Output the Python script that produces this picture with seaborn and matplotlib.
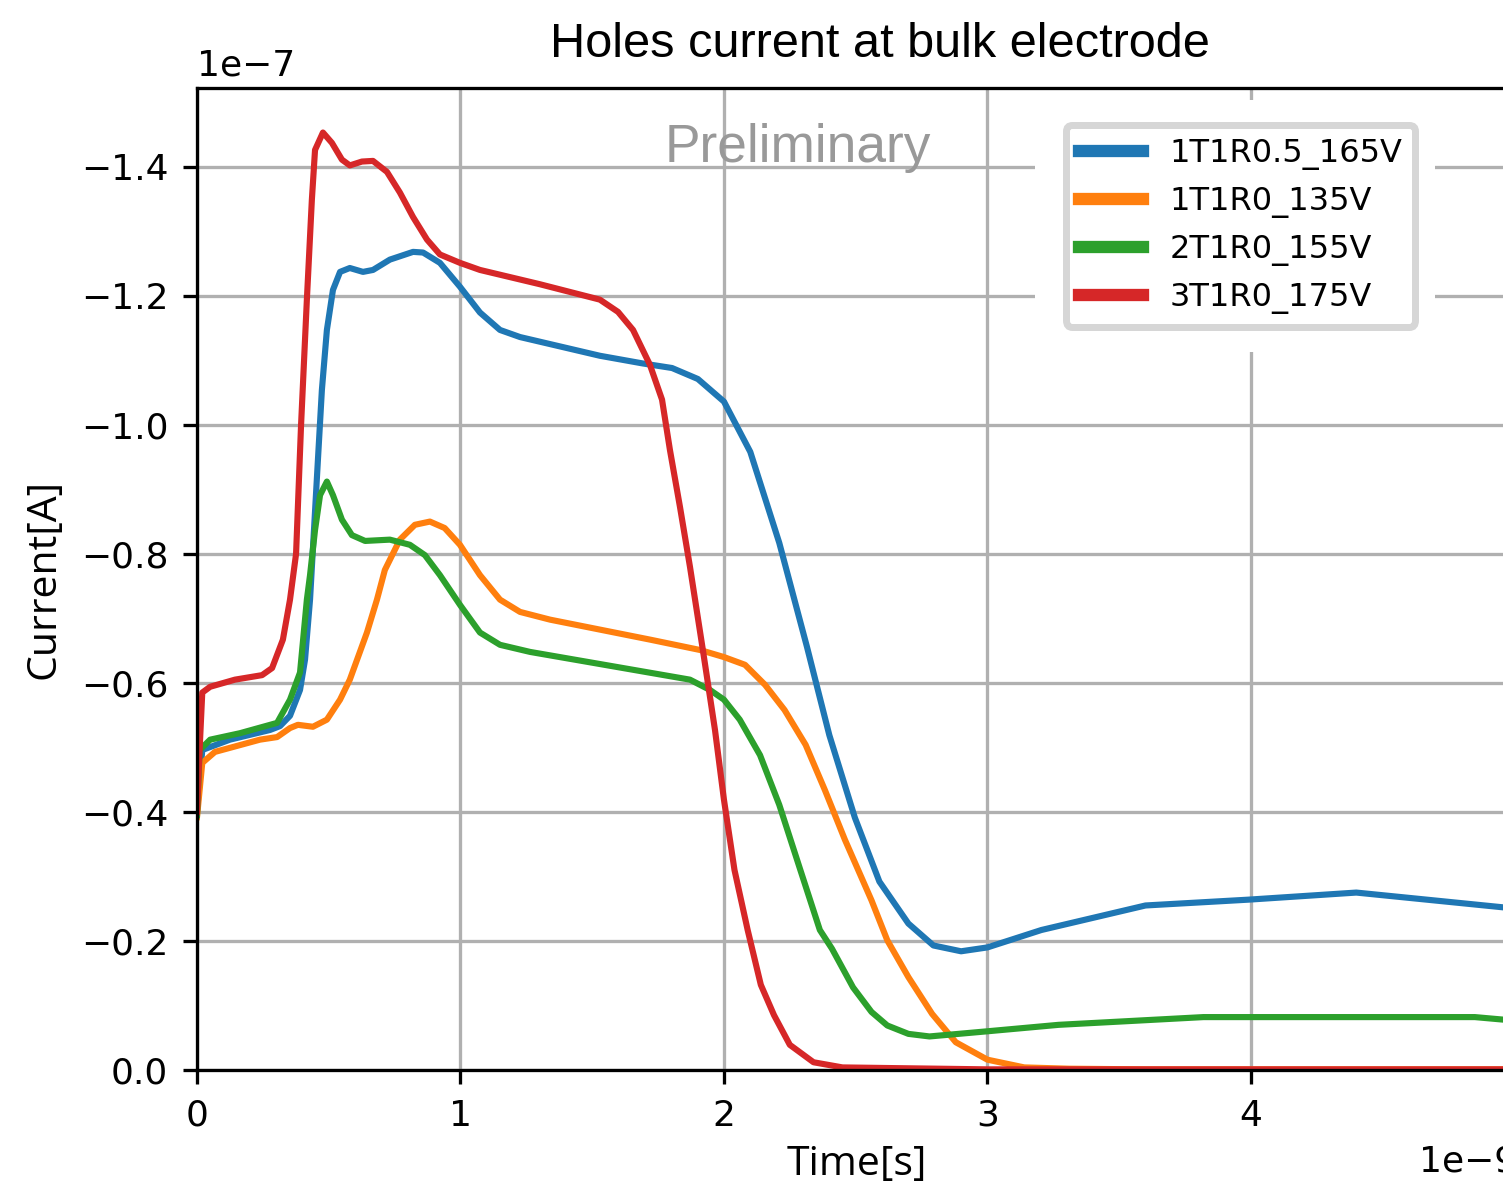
import numpy as np
import pandas as pd
import matplotlib
matplotlib.use("Agg")
import matplotlib.pyplot as plt
from matplotlib.patches import Rectangle
import seaborn as sns

# time in ns, current in 1e-7 A
t_blue = [0.0, 0.02, 0.125, 0.277, 0.315, 0.353, 0.391, 0.41, 0.429, 0.444, 0.459, 0.474,
          0.493, 0.516, 0.543, 0.58, 0.63, 0.668, 0.732, 0.82, 0.858, 0.922, 0.998, 1.074,
          1.15, 1.226, 1.529, 1.693, 1.803, 1.901, 2.0, 2.10, 2.21, 2.315, 2.40, 2.497,
          2.59, 2.70, 2.795, 2.90, 3.0, 3.205, 3.60, 3.99, 4.40, 4.96]
i_blue = [-0.40, -0.496, -0.512, -0.527, -0.533, -0.549, -0.589, -0.636, -0.729, -0.837,
          -0.946, -1.054, -1.147, -1.209, -1.237, -1.243, -1.237, -1.240, -1.256, -1.268,
          -1.267, -1.251, -1.214, -1.174, -1.147, -1.136, -1.107, -1.095, -1.088, -1.071,
          -1.036, -0.958, -0.817, -0.656, -0.519, -0.391, -0.292, -0.227, -0.193, -0.184,
          -0.190, -0.217, -0.255, -0.264, -0.275, -0.252]

t_orange = [0.0, 0.02, 0.068, 0.239, 0.304, 0.353, 0.383, 0.44, 0.493, 0.543, 0.58, 0.645,
            0.683, 0.713, 0.77, 0.827, 0.884, 0.94, 0.998, 1.074, 1.15, 1.226, 1.34, 1.72,
            1.909, 2.0, 2.08, 2.156, 2.23, 2.31, 2.383, 2.459, 2.56, 2.62, 2.70, 2.79, 2.88,
            3.0, 3.14, 3.31, 3.6, 4.0, 4.5, 4.96]
i_orange = [-0.392, -0.476, -0.493, -0.512, -0.516, -0.530, -0.535, -0.532, -0.543, -0.574,
            -0.605, -0.678, -0.729, -0.775, -0.822, -0.845, -0.850, -0.840, -0.814, -0.767,
            -0.729, -0.710, -0.698, -0.667, -0.651, -0.640, -0.628, -0.597, -0.558, -0.504,
            -0.434, -0.357, -0.263, -0.201, -0.144, -0.087, -0.043, -0.016, -0.004, -0.002,
            -0.001, -0.001, -0.001, -0.001]

t_green = [0.0, 0.01, 0.05, 0.163, 0.304, 0.353, 0.391, 0.417, 0.429, 0.448, 0.467, 0.493,
           0.516, 0.55, 0.588, 0.638, 0.732, 0.808, 0.865, 0.922, 0.998, 1.074, 1.15, 1.264,
           1.871, 1.947, 2.0, 2.06, 2.137, 2.21, 2.29, 2.364, 2.41, 2.49, 2.56, 2.62, 2.70,
           2.78, 3.0, 3.27, 3.82, 4.85, 4.96]
i_green = [-0.395, -0.496, -0.512, -0.522, -0.538, -0.574, -0.616, -0.729, -0.767, -0.837,
           -0.891, -0.912, -0.891, -0.853, -0.829, -0.820, -0.822, -0.814, -0.798, -0.767,
           -0.721, -0.678, -0.659, -0.648, -0.605, -0.589, -0.574, -0.543, -0.488, -0.411,
           -0.310, -0.217, -0.188, -0.128, -0.090, -0.069, -0.056, -0.052, -0.060, -0.070,
           -0.082, -0.082, -0.078]

t_red = [0.0, 0.008, 0.02, 0.05, 0.144, 0.247, 0.285, 0.326, 0.353, 0.376, 0.395, 0.417,
         0.436, 0.448, 0.478, 0.512, 0.55, 0.58, 0.626, 0.668, 0.721, 0.77, 0.82, 0.873,
         0.922, 0.998, 1.074, 1.3, 1.529, 1.598, 1.655, 1.719, 1.765, 1.795, 1.833, 1.871,
         1.92, 1.966, 2.0, 2.04, 2.09, 2.14, 2.19, 2.25, 2.28, 2.34, 2.45, 3.0, 4.0, 4.96]
i_red = [-0.40, -0.48, -0.585, -0.594, -0.605, -0.612, -0.623, -0.667, -0.729, -0.80, -1.0,
         -1.194, -1.349, -1.426, -1.453, -1.437, -1.411, -1.402, -1.408, -1.409, -1.392,
         -1.36, -1.322, -1.287, -1.264, -1.251, -1.240, -1.218, -1.194, -1.175, -1.147,
         -1.093, -1.039, -0.961, -0.873, -0.78, -0.651, -0.527, -0.419, -0.31, -0.217,
         -0.132, -0.085, -0.039, -0.030, -0.012, -0.004, -0.001, -0.001, -0.001]

labels = ["1T1R0.5_165V", "1T1R0_135V", "2T1R0_155V", "3T1R0_175V"]

frames = []
for lab, t, cur in zip(labels, [t_blue, t_orange, t_green, t_red],
                       [i_blue, i_orange, i_green, i_red]):
    frames.append(pd.DataFrame({"t": np.array(t) * 1e-9,
                                "I": np.array(cur) * 1e-7,
                                "run": lab}))
df = pd.concat(frames, ignore_index=True)

dpi = 295
fig = plt.figure(figsize=(1503 / dpi, 1185 / dpi), dpi=dpi)
# the axes run a little past the right edge of the picture (cropped figure)
ax = fig.add_axes([197 / 1503, 1 - 1070 / 1185, 1320 / 1503, 982 / 1185])

sns.lineplot(data=df, x="t", y="I", hue="run", palette="tab10", sort=False,
             estimator=None, linewidth=1.5, ax=ax)

ax.set_xlim(0, 5.01e-9)
ax.set_ylim(0, -1.522e-7)
ax.grid(True, color="#b0b0b0", linewidth=0.8)
ax.tick_params(labelsize=8.8)
ax.xaxis.get_offset_text().set_fontsize(8.8)
ax.yaxis.get_offset_text().set_fontsize(8.8)

ax.set_title("Holes current at bulk electrode", family="Liberation Sans",
             fontsize=11.9, pad=7.5, x=(880 - 197) / 1320)
ax.set_xlabel("Time[s]", family="Open Sans", fontsize=10, labelpad=3)
ax.set_ylabel("Current[A]", family="Open Sans", fontsize=10)

ax.text(0.455, 0.939, "Preliminary", transform=ax.transAxes, ha="center",
        va="center", family="Liberation Sans", fontsize=13, color="#999999")

# white area around the legend
ax.add_patch(Rectangle((0.635, 0.731), 0.303, 0.257, transform=ax.transAxes,
                       facecolor="white", edgecolor="none", zorder=1.8))

leg = ax.legend(loc="upper left", bbox_to_anchor=(0.6583, 0.9623),
                borderaxespad=0, fontsize=7.8, handlelength=2.0,
                handletextpad=0.85, labelspacing=0.5, borderpad=0.4,
                framealpha=1, edgecolor="#d6d6d6", fancybox=True)
leg.get_frame().set_linewidth(1.7)
for ln in leg.get_lines():
    ln.set_linewidth(3)

fig.savefig("out.png", dpi=dpi)
